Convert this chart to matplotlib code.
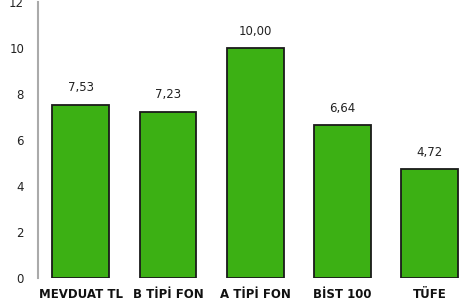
import matplotlib
matplotlib.use("Agg")
import matplotlib.pyplot as plt

categories = ["MEVDUAT TL", "B TİPİ FON", "A TİPİ FON", "BİST 100", "TÜFE"]
values = [7.53, 7.23, 10.00, 6.64, 4.72]
labels = ["7,53", "7,23", "10,00", "6,64", "4,72"]
yticks = [0, 2, 4, 6, 8, 10, 12]

fig = plt.figure(figsize=(4.69, 3.06), dpi=100)
ax = fig.add_axes([38 / 469, 28 / 306, 431 / 469, 276 / 306])

x = range(len(categories))
bars = ax.bar(x, values, width=0.65, color="#3cb014", edgecolor="#1a1a1a", linewidth=1.3)

for b, lab in zip(bars, labels):
    ax.text(b.get_x() + b.get_width() / 2, b.get_height() + 0.45, lab,
            ha="center", va="bottom", fontsize=8.5, color="#222222")

ax.set_xlim(-0.49, 4.45)
ax.set_ylim(0, 12)
ax.set_yticks(yticks)
ax.set_yticklabels([str(t) for t in yticks], fontsize=8.5, color="#222222")
ax.set_xticks(list(x))
ax.set_xticklabels(categories, fontsize=8.5, fontweight="bold", color="#111111")

for s in ["top", "right", "bottom"]:
    ax.spines[s].set_visible(False)
ax.spines["left"].set_color("#aaaaaa")
ax.spines["left"].set_linewidth(1.5)
ax.tick_params(axis="y", length=0, pad=10)
ax.tick_params(axis="x", length=0, pad=7)

fig.savefig("out.png", dpi=100)
